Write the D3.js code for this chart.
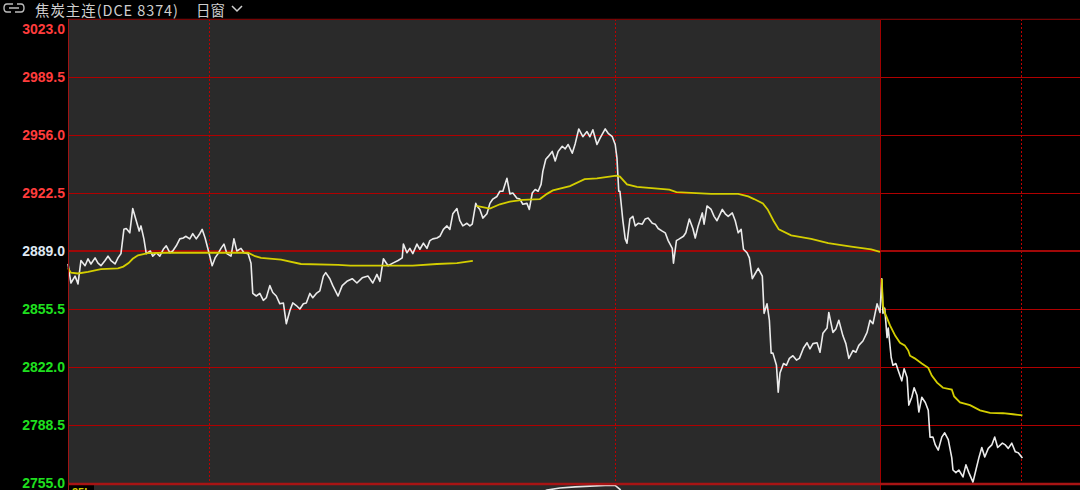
<!DOCTYPE html>
<html>
<head>
<meta charset="utf-8">
<script src="https://cdn.jsdelivr.net/npm/d3@7"></script>
<style>
  html, body { margin: 0; padding: 0; background: #000; }
  svg { display: block; }
</style>
</head>
<body>
<div id="chart"></div>
<script>
// minutes into the session (345 per trading day) and price
const day1Price = [[0,2881.5],[2.5,2870.5],[6,2874.5],[8.5,2870],[11,2883.5],[14.5,2880.5],[17,2884.5],[19.5,2881.5],[23,2885],[25.5,2882],[28,2880.5],[31.5,2883.5],[34,2886],[36.5,2883.5],[40,2881.5],[42.5,2885],[45,2887.5],[47.5,2901.5],[49.5,2902],[52.5,2899.5],[55,2913.5],[58,2906.5],[60.5,2900.5],[62,2903.5],[64.5,2896],[66.5,2887.5],[70,2889],[72,2886],[75,2888],[78,2886],[81,2890],[83.5,2892],[86.5,2888],[89,2889],[92,2892],[95,2896],[98,2896.5],[100,2897.5],[103.5,2896],[106,2899],[109,2896],[112,2899],[114,2901.5],[116.5,2896.5],[119,2890],[122.5,2880.5],[125,2885],[127.5,2887.5],[130,2890.5],[132.5,2893],[135,2887.5],[138.5,2886],[141,2896],[143.5,2889],[147,2890.5],[149.5,2888],[153,2887.5],[155.5,2882],[157,2864.5],[160,2863],[163,2864.5],[166,2860.5],[168.5,2862],[171.5,2869],[174,2865],[177,2863],[180,2858.5],[183,2859],[185.5,2847],[188.5,2854.5],[191,2859],[194,2857.5],[197,2855.5],[200,2858.5],[202.5,2859],[205.5,2864.5],[208,2862],[211,2864.5],[214,2866],[217,2874.5],[219,2876.5],[222.5,2873],[225,2869],[229.5,2863],[233,2869],[237,2871.5],[241.5,2873],[245.5,2870.5],[250,2873.5],[255,2874.5],[259,2870.5],[262.5,2875.5],[265,2871.5],[268,2884.5],[272,2880.5],[276,2882],[280.5,2883.5],[284,2885],[285,2893],[288,2888],[290.5,2890.5],[293,2887.5],[296.5,2893],[299,2890],[302,2893.5],[305,2890.5],[307.5,2895],[310,2896],[313.5,2896.5],[316,2897.5],[319,2901.5],[322,2903.5],[324.5,2901.5],[327,2910.5],[330.5,2913.5],[333,2906.5],[335.5,2903.5],[339,2905],[341.5,2903.5],[343.5,2904.5]]
const day2Price = [[1.5,2916.5],[2.5,2915],[5,2913],[7.5,2908],[11,2910.5],[13.5,2916.5],[16,2919],[19.5,2920.5],[22,2923.5],[24.5,2923.5],[28,2931],[30.5,2922],[33,2922.5],[36.5,2919.5],[39,2919],[41.5,2916],[45,2916.5],[47,2913],[49.5,2922.5],[52,2924.5],[54.5,2923.5],[57,2927.5],[58.5,2935],[61,2942],[63,2943.5],[66.5,2946.5],[69,2941],[71.5,2946.5],[75,2949.5],[77.5,2948],[80,2950.5],[83.5,2945.5],[86,2951],[89,2959.5],[92.5,2955],[96,2958],[98.5,2955],[101,2959],[104.5,2950.5],[107,2954],[111.5,2959.5],[114,2957],[117.5,2955],[120,2950.5],[121.5,2942.5],[123,2923.5],[124,2923.5],[126.5,2906.5],[128.5,2896],[130,2893.5],[132.5,2907.5],[135,2909],[137,2903.5],[139.5,2905],[143,2904.5],[145.5,2907.5],[148,2908],[151.5,2905],[154,2904.5],[156.5,2902],[160,2900.5],[162.5,2899.5],[165,2895],[168.5,2890.5],[169.5,2882],[172,2895],[174.5,2896],[178,2897.5],[180,2899.5],[183,2907.5],[186,2902],[188,2896.5],[190.5,2903.5],[194,2911],[195.5,2904.5],[198,2915],[201.5,2913],[204,2909],[206.5,2906.5],[211,2913],[213.5,2910.5],[216,2909],[219.5,2911],[222,2906.5],[224.5,2899.5],[227,2901.5],[229,2890],[232,2888],[234,2885],[236.5,2873],[239,2876],[241.5,2879],[245,2874.5],[246.5,2853],[249,2858.5],[251,2849],[252.5,2830],[254,2830],[257,2823],[258.5,2807.5],[260,2818.5],[263,2824],[265.5,2823],[268,2827],[271,2828.5],[274,2826],[276.5,2827],[280,2833],[283,2836],[285.5,2832.5],[288,2835.5],[291.5,2836],[294,2830.5],[296.5,2841.5],[300,2844.5],[301.5,2853.5],[305,2842],[307.5,2844],[310,2849],[313.5,2840],[316,2835.5],[318.5,2827],[322,2831.5],[324.5,2830.5],[327,2834.5],[330.5,2837],[334,2842],[336.5,2849],[339,2847],[342.5,2858.5],[345,2853.5]]
const day3Price = [[1.5,2873],[2.5,2853],[4,2856],[6,2839],[7,2844.5],[9.5,2827.5],[11,2823],[13.5,2824],[15.5,2820],[18.5,2814],[20.5,2821],[23,2816],[24.5,2800],[27,2804.5],[29,2810],[31.5,2805.5],[33,2796],[35.5,2804.5],[38.5,2801.5],[41,2797],[42.5,2781.5],[45,2781.5],[47,2777],[49.5,2774],[52.5,2781.5],[55,2784],[58,2780],[61,2769.5],[62,2762.5],[64.5,2761],[67,2762.5],[70.5,2758.5],[73,2765.5],[75.5,2761],[79,2755.5],[81.5,2762.5],[84,2769.5],[86.5,2775.5],[89,2770],[92,2775],[95,2777],[97.5,2781.5],[100,2775.5],[104,2778],[106.5,2777],[109,2775],[112,2778],[115,2773],[117.5,2772.5],[121,2769.5]]

const day1Avg = [[0,2879],[2.5,2876.5],[8.5,2876],[17,2877],[28,2878.5],[42.5,2879],[47,2880],[51.5,2882],[55,2884.5],[59.5,2886.5],[68,2887.8],[85,2888],[106,2888],[127.5,2888],[153,2888],[159,2886],[164,2885],[181,2884],[198,2881.5],[229.5,2881],[240,2880.5],[293,2880.5],[313.5,2881.5],[330.5,2882],[344,2883.3]]
const day2Avg = [[2,2915],[13.5,2913.5],[22,2916],[30.5,2917.5],[41.5,2918.5],[56,2919],[62,2922],[67,2924],[81.5,2926.5],[94,2930.5],[104.5,2931],[121,2932.5],[124,2932],[130,2927.5],[138.5,2926],[166,2924.5],[172,2923],[201.5,2922],[224.5,2922],[233,2920.5],[238,2919],[245.5,2916.5],[249.5,2913],[254.5,2906.5],[259,2901.5],[269.5,2898],[286.5,2896],[301,2893.5],[320.5,2891.5],[337.5,2890],[345,2888.5]]
const day3Avg = [[1.5,2873],[2.5,2857.5],[4,2853.5],[8.5,2846],[13,2840],[17,2836],[21,2834.5],[24,2831.5],[25.5,2828.5],[29.5,2827],[35.5,2824],[41,2821.5],[44,2817],[48.5,2813],[53.5,2810],[61,2809],[63,2805],[68,2801.5],[76.5,2800],[85,2797],[93.5,2795.5],[104.5,2795.3],[113,2794.7],[121,2794]]

// lower indicator panel, only its top edge shows (day 2)
const subLine = [[58,78],[62,83],[73,89],[86,92],[98.5,94],[111.5,96],[120,96],[124,85],[127,70]]

const priceTicks = [3023.0, 2989.5, 2956.0, 2922.5, 2889.0, 2855.5, 2822.0, 2788.5, 2755.0]
const prevClose = 2889.0
const sessionMinutes = 345
const nightMinutes = 120
const daysShown = 3

const W = 1080, H = 490
const plotLeft = 68, plotTop = 19, plotBottom = 483
const dayWidth = 406

const svg = d3.select("#chart").append("svg")
    .attr("width", W)
    .attr("height", H)
    .style("background", "#000")

const x = d3.scaleLinear()
    .domain([0, sessionMinutes * daysShown])
    .range([plotLeft, plotLeft + dayWidth * daysShown])

const y = d3.scaleLinear()
    .domain([2755, 3023])
    .range([plotBottom, plotTop])

const subY = d3.scaleLinear()
    .domain([0, 100])
    .range([520, 484])

// panel backgrounds: history days in grey, current day black
svg.append("rect")
    .attr("x", plotLeft).attr("y", plotTop)
    .attr("width", x(sessionMinutes * 2) - plotLeft)
    .attr("height", H - plotTop)
    .attr("fill", "#2a2a2a")

// horizontal gridlines
svg.append("g")
    .attr("shape-rendering", "crispEdges")
    .selectAll("line")
    .data(priceTicks.filter(t => t !== prevClose && t !== 2755))
    .join("line")
    .attr("x1", plotLeft).attr("x2", W)
    .attr("y1", d => Math.round(y(d)) + 0.5).attr("y2", d => Math.round(y(d)) + 0.5)
    .attr("stroke", "#b00000")
    .attr("stroke-width", 1)

// vertical dotted session gridlines (end of night session)
svg.append("g")
    .attr("shape-rendering", "crispEdges")
    .selectAll("line")
    .data(d3.range(daysShown))
    .join("line")
    .attr("x1", d => Math.round(x(d * sessionMinutes + nightMinutes)) + 0.5)
    .attr("x2", d => Math.round(x(d * sessionMinutes + nightMinutes)) + 0.5)
    .attr("y1", plotTop).attr("y2", plotBottom)
    .attr("stroke", "#c00000")
    .attr("stroke-dasharray", "2,2")

// boundary between history and current day
svg.append("line")
    .attr("shape-rendering", "crispEdges")
    .attr("x1", Math.round(x(sessionMinutes * 2)) + 0.5)
    .attr("x2", Math.round(x(sessionMinutes * 2)) + 0.5)
    .attr("y1", plotTop).attr("y2", H)
    .attr("stroke", "#a00000")

// previous close line
svg.append("line")
    .attr("x1", plotLeft).attr("x2", W)
    .attr("y1", y(prevClose)).attr("y2", y(prevClose))
    .attr("stroke", "#a00808")
    .attr("stroke-width", 2)

const line = d3.line()
    .x(d => x(d[0]))
    .y(d => y(d[1]))

const shift = (arr, day) => arr.map(d => [d[0] + day * sessionMinutes, d[1]])

const plot = svg.append("g")

const priceData = [].concat(shift(day1Price, 0), shift(day2Price, 1), shift(day3Price, 2))
plot.append("path")
    .datum(priceData)
    .attr("d", line)
    .attr("fill", "none")
    .attr("stroke", "#ebebeb")
    .attr("stroke-width", 1.6)
    .attr("stroke-linejoin", "round")

;[day1Avg, day2Avg, day3Avg].forEach((avg, i) => {
    plot.append("path")
        .datum(shift(avg, i))
        .attr("d", line)
        .attr("fill", "none")
        .attr("stroke", "#d4ce00")
        .attr("stroke-width", 1.8)
})

// lower panel top edge
svg.append("path")
    .datum(shift(subLine, 1))
    .attr("d", d3.line().x(d => x(d[0])).y(d => subY(d[1])))
    .attr("fill", "none")
    .attr("stroke", "#e6e6e6")
    .attr("stroke-width", 1.6)

svg.append("rect")
    .attr("x", plotLeft + 1).attr("y", 485)
    .attr("width", 25).attr("height", 10)
    .attr("fill", "#000")
svg.append("text")
    .attr("x", plotLeft + 4).attr("y", 496)
    .attr("fill", "#d2cc00")
    .attr("font-family", "Liberation Sans, Arial, sans-serif")
    .attr("font-weight", "bold")
    .attr("font-size", 11)
    .text("25L")

// bottom border of price panel
svg.append("line")
    .attr("x1", plotLeft).attr("x2", W)
    .attr("y1", plotBottom + 1).attr("y2", plotBottom + 1)
    .attr("stroke", "#a81414")
    .attr("stroke-width", 2.5)

// top border
svg.append("line")
    .attr("x1", plotLeft).attr("x2", W)
    .attr("y1", plotTop).attr("y2", plotTop)
    .attr("stroke", "#3a0808")

// left axis
svg.append("line")
    .attr("shape-rendering", "crispEdges")
    .attr("x1", plotLeft + 0.5).attr("x2", plotLeft + 0.5)
    .attr("y1", plotTop).attr("y2", H)
    .attr("stroke", "#a01414")

const tickColor = d => d > prevClose ? "#ff3c3c" : d < prevClose ? "#1fe01f" : "#dfe8f2"

svg.append("g")
    .selectAll("text")
    .data(priceTicks)
    .join("text")
    .attr("x", plotLeft - 3)
    .attr("y", d => Math.max(y(d), plotTop + 10))
    .attr("dy", "0.36em")
    .attr("text-anchor", "end")
    .attr("fill", tickColor)
    .attr("font-family", "Liberation Sans, Arial, sans-serif")
    .attr("font-weight", "bold")
    .attr("font-size", 14)
    .text(d => d.toFixed(1))

// title bar
const title = svg.append("g")
title.append("path")
    .attr("d", "M13,4 H7 Q4,4 4,8 Q4,12 7,12 H11 M9,8 H19 M17,4 H21 Q24,4 24,8 Q24,12 21,12 H15")
    .attr("fill", "none")
    .attr("stroke", "#bdbdbd")
    .attr("stroke-width", 1.4)
title.append("text")
    .attr("x", 35).attr("y", 16)
    .attr("fill", "#cfcfcf")
    .attr("font-family", "Noto Sans CJK SC, sans-serif")
    .attr("font-size", 14.5)
    .attr("textLength", 143)
    .text("焦炭主连(DCE 8374)")
title.append("text")
    .attr("x", 196).attr("y", 16)
    .attr("fill", "#cfcfcf")
    .attr("font-family", "Noto Sans CJK SC, sans-serif")
    .attr("font-size", 14.5)
    .text("日窗")
title.append("path")
    .attr("d", "M232,6 L237,11 L242,6")
    .attr("fill", "none")
    .attr("stroke", "#cfcfcf")
    .attr("stroke-width", 1.5)
</script>
</body>
</html>
